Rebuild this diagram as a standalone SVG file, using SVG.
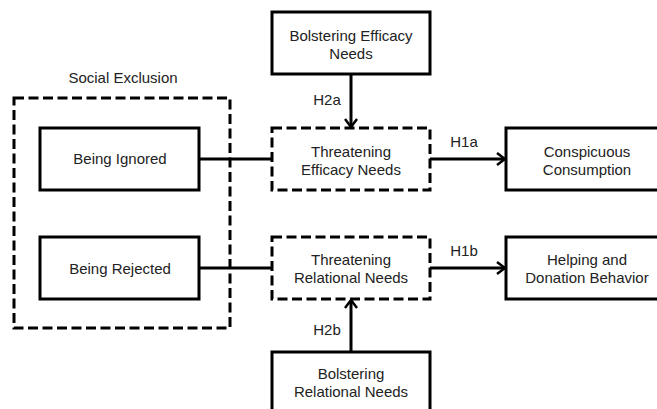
<svg xmlns="http://www.w3.org/2000/svg" width="657" height="409" viewBox="0 0 657 409">
<defs>
<style>
text{font-family:"Liberation Sans",Arial,sans-serif;font-size:15px;fill:#222;text-anchor:middle}
.box{fill:#fff;stroke:#000;stroke-width:3}
.dash{fill:none;stroke:#000;stroke-width:3;stroke-dasharray:10 4.5}
.ln{fill:none;stroke:#000;stroke-width:3}
</style>
<marker id="arr" viewBox="0 0 10 14" refX="9" refY="7" markerWidth="10" markerHeight="14" markerUnits="userSpaceOnUse" orient="auto">
<path d="M1,1 L9,7 L1,13" fill="none" stroke="#000" stroke-width="2.5"/>
</marker>
</defs>
<rect width="657" height="409" fill="#fff"/>
<g id="connectors">
<line class="ln" x1="199" y1="159" x2="272" y2="159"/>
<line class="ln" x1="199" y1="268" x2="272" y2="268"/>
<line class="ln" x1="430" y1="159" x2="505" y2="159" marker-end="url(#arr)"/>
<line class="ln" x1="430" y1="268" x2="505" y2="268" marker-end="url(#arr)"/>
<line class="ln" x1="351" y1="74" x2="351" y2="127" marker-end="url(#arr)"/>
<line class="ln" x1="351" y1="352" x2="351" y2="300" marker-end="url(#arr)"/>
<text x="464" y="147">H1a</text>
<text x="464" y="256">H1b</text>
<text x="327" y="105">H2a</text>
<text x="327" y="335">H2b</text>
</g>
<g id="social-exclusion">
<rect class="dash" x="14" y="98" width="216" height="230"/>
<text x="123" y="83">Social Exclusion</text>
</g>
<g id="being-ignored">
<rect class="box" x="40" y="128" width="159" height="62"/>
<text x="120" y="164">Being Ignored</text>
</g>
<g id="being-rejected">
<rect class="box" x="40" y="237" width="159" height="62"/>
<text x="120" y="274">Being Rejected</text>
</g>
<g id="bolstering-efficacy">
<rect class="box" x="272" y="12" width="158" height="62"/>
<text x="351" y="41">Bolstering Efficacy</text>
<text x="351" y="59">Needs</text>
</g>
<g id="threatening-efficacy">
<rect class="dash" x="272" y="128" width="158" height="62"/>
<text x="351" y="157">Threatening</text>
<text x="351" y="175">Efficacy Needs</text>
</g>
<g id="threatening-relational">
<rect class="dash" x="272" y="237" width="158" height="62"/>
<text x="351" y="265">Threatening</text>
<text x="351" y="283">Relational Needs</text>
</g>
<g id="bolstering-relational">
<rect class="box" x="272" y="352" width="158" height="62"/>
<text x="351" y="379">Bolstering</text>
<text x="351" y="397">Relational Needs</text>
</g>
<g id="conspicuous">
<rect class="box" x="506" y="128" width="162" height="62"/>
<text x="587" y="157">Conspicuous</text>
<text x="587" y="175">Consumption</text>
</g>
<g id="helping">
<rect class="box" x="506" y="237" width="162" height="62"/>
<text x="587" y="265">Helping and</text>
<text x="587" y="283">Donation Behavior</text>
</g>
</svg>
